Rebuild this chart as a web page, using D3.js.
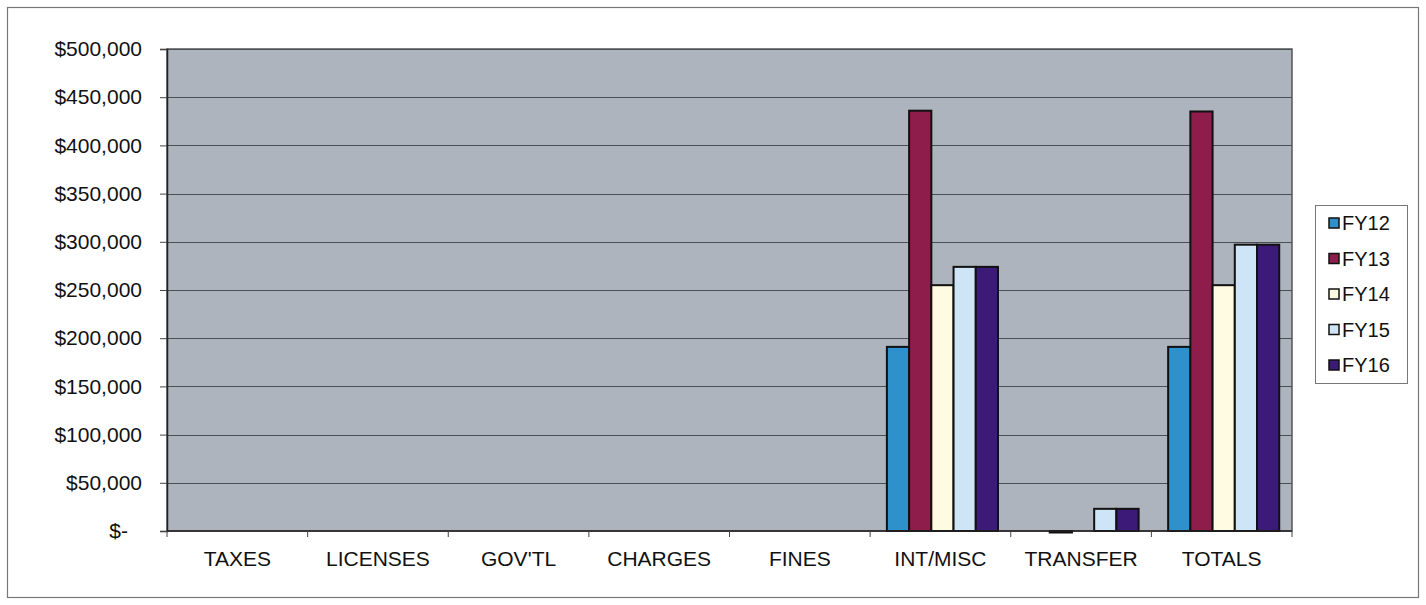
<!DOCTYPE html>
<html>
<head>
<meta charset="utf-8">
<script src="https://cdn.jsdelivr.net/npm/d3@7"></script>
<style>
  body { margin: 0; background: #fff; }
  svg { font-family: Arial, "Liberation Sans", sans-serif; }
</style>
</head>
<body>
<div id="chart"></div>
<script>
// categories + series
const categories = ["TAXES", "LICENSES", "GOV'TL", "CHARGES", "FINES", "INT/MISC", "TRANSFER", "TOTALS"];
const seriesNames = ["FY12", "FY13", "FY14", "FY15", "FY16"];
const fy12 = [0, 0, 0, 0, 0, 191000, 0, 191000];
const fy13 = [0, 0, 0, 0, 0, 436000, -800, 435200];
const fy14 = [0, 0, 0, 0, 0, 255000, 0, 255000];
const fy15 = [0, 0, 0, 0, 0, 274000, 23000, 297000];
const fy16 = [0, 0, 0, 0, 0, 274000, 23000, 297000];
const yTicks = [0, 50000, 100000, 150000, 200000, 250000, 300000, 350000, 400000, 450000, 500000];
const colors = ["#2f91cc", "#8e1d4c", "#fffbe2", "#cde5f6", "#3c1a78"];

const W = 1426, H = 605;
const margin = { top: 49, right: 134, bottom: 74, left: 167 };
const iw = W - margin.left - margin.right;
const ih = H - margin.top - margin.bottom;

const values = [fy12, fy13, fy14, fy15, fy16];
const table = categories.map((c, i) => ({
  cat: c,
  vals: seriesNames.map((s, j) => ({ key: s, value: values[j][i], color: colors[j] }))
}));

const svg = d3.select("#chart").append("svg")
  .attr("width", W).attr("height", H);

// outer frame
svg.append("rect")
  .attr("x", 7.5).attr("y", 7.5).attr("width", W - 15).attr("height", H - 15)
  .attr("fill", "#fff").attr("stroke", "#777").attr("stroke-width", 1.2);

const g = svg.append("g").attr("transform", `translate(${margin.left},${margin.top})`);

const x0 = d3.scaleBand().domain(categories).range([0, iw])
  .paddingInner(0.21).paddingOuter(0.105);
const x1 = d3.scaleBand().domain(seriesNames).range([0, x0.bandwidth()]);
const y = d3.scaleLinear().domain([0, 500000]).range([ih, 0]);

g.append("rect").attr("width", iw).attr("height", ih)
  .attr("fill", "#aeb4bd").attr("stroke", "#555").attr("stroke-width", 1.5);

// gridlines
g.selectAll("line.grid").data(yTicks.slice(1)).join("line")
  .attr("class", "grid")
  .attr("x1", 0).attr("x2", iw)
  .attr("y1", d => Math.round(y(d)) + 0.5).attr("y2", d => Math.round(y(d)) + 0.5)
  .attr("stroke", "#4a4f55").attr("stroke-width", 1);

// y axis
const fmt = d => d === 0 ? "$-" : "$" + d3.format(",")(d);
const yAxis = g.append("g")
  .call(d3.axisLeft(y).tickValues(yTicks).tickFormat(fmt).tickSize(7).tickPadding(18));
yAxis.select(".domain").attr("stroke", "#222").attr("stroke-width", 1.5);
yAxis.selectAll(".tick line").attr("stroke", "#444");
yAxis.selectAll("text").attr("font-size", 21).attr("fill", "#111")
  .attr("dx", d => d === 0 ? -14 : 0);

// bars
const groups = g.selectAll("g.cat").data(table).join("g")
  .attr("class", "cat")
  .attr("transform", d => `translate(${x0(d.cat) + 2},0)`);

groups.selectAll("rect").data(d => d.vals.filter(v => v.value !== 0)).join("rect")
  .attr("x", d => x1(d.key))
  .attr("width", x1.bandwidth())
  .attr("y", d => y(Math.max(0, d.value)))
  .attr("height", d => Math.max(1.5, Math.abs(y(d.value) - y(0))))
  .attr("fill", d => d.color)
  .attr("stroke", "#111").attr("stroke-width", 2);

// x axis
g.append("line").attr("x1", 0).attr("x2", iw).attr("y1", ih).attr("y2", ih)
  .attr("stroke", "#222").attr("stroke-width", 1.5);
const step = x0.step();
g.selectAll("line.xtick").data(d3.range(categories.length + 1)).join("line")
  .attr("class", "xtick")
  .attr("x1", i => i * step).attr("x2", i => i * step)
  .attr("y1", ih).attr("y2", ih + 6)
  .attr("stroke", "#444");
g.selectAll("text.xlab").data(categories).join("text")
  .attr("class", "xlab")
  .attr("x", d => x0(d) + x0.bandwidth() / 2)
  .attr("y", ih + 35)
  .attr("text-anchor", "middle")
  .attr("font-size", 21).attr("fill", "#111")
  .text(d => d);

// legend
const lg = svg.append("g").attr("transform", "translate(1315,205)");
lg.append("rect").attr("x", 0.5).attr("y", 0.5).attr("width", 92).attr("height", 178)
  .attr("fill", "#fff").attr("stroke", "#777");
const items = lg.selectAll("g.item").data(seriesNames).join("g")
  .attr("class", "item")
  .attr("transform", (d, i) => `translate(14,${18 + i * 35.5})`);
items.append("rect").attr("x", 0).attr("y", -5).attr("width", 10).attr("height", 10)
  .attr("fill", (d, i) => colors[i]).attr("stroke", "#111").attr("stroke-width", 1.5);
items.append("text").attr("x", 13).attr("y", 7)
  .attr("font-size", 20).attr("fill", "#111").text(d => d);
</script>
</body>
</html>
